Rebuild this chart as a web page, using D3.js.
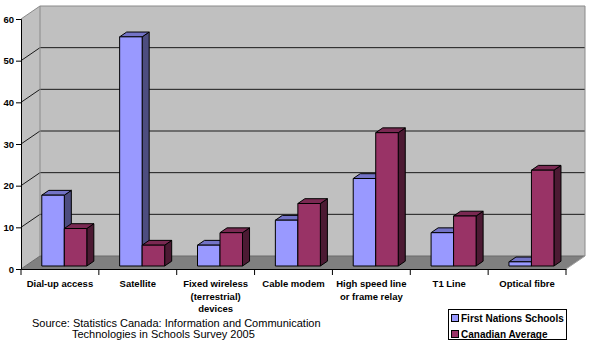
<!DOCTYPE html>
<html><head><meta charset="utf-8">
<script src="https://cdn.jsdelivr.net/npm/d3@7/dist/d3.min.js"></script>
<style>body{margin:0;background:#fff}svg{display:block;font-family:Arial,"Liberation Sans",sans-serif}</style>
</head><body><svg id="c" width="590" height="349"></svg>
<script>
const categories = [["Dial-up access"],["Satellite"],["Fixed wireless","(terrestrial)","devices"],["Cable modem"],["High speed line","or frame relay"],["T1 Line"],["Optical fibre"]];
const seriesNames = ["First Nations Schools","Canadian Average"];
const firstNations = [17,55,5,11,21,8,1];
const canadianAvg = [9,5,8,15,32,12,23];
const yTicks = [0,10,20,30,40,50,60];
const sourceLines = ["Source: Statistics Canada: Information and Communication","Technologies in Schools Survey 2005"];

const colors = [{front:"#9999ff",top:"#7373c6",side:"#4d4d80"},{front:"#993366",top:"#7a2952",side:"#4c1a33"}];
const svg = d3.select("#c");
const DX = 19, DY = -13;
const P = (x,y,d)=>[x+DX*d, y+DY*d];
const keys = categories.map((c,i)=>i);
const x0 = d3.scaleBand().domain(keys).range([21,566]);
const x1 = d3.scaleBand().domain([0,1]).range([0,x0.bandwidth()]).paddingOuter(0.73);
const y = d3.scaleLinear().domain([0,60]).range([269,19]);
const pts = a=>a.map(p=>p.join(",")).join(" ");

// walls
svg.append("polygon").attr("points",pts([P(21,y(0),0),P(21,y(60),0),P(21,y(60),1),P(21,y(0),1)])).attr("fill","#c0c0c0");
svg.append("polygon").attr("points",pts([P(21,y(60),1),P(566,y(60),1),P(566,y(0),1),P(21,y(0),1)])).attr("fill","#c0c0c0");
svg.append("polygon").attr("points",pts([P(21,y(0),0),P(566,y(0),0),P(566,y(0),1),P(21,y(0),1)])).attr("fill","#808080");
// gridlines
yTicks.forEach(t=>{
  const col = t===60 ? "#8a8a8a" : (t===0 ? "#6a6a6a" : "#1a1a1a");
  svg.append("polyline").attr("points",pts([P(21,y(t),0),P(21,y(t),1),P(566,y(t),1)])).attr("fill","none").attr("stroke",col).attr("stroke-width",1);
});
svg.append("line").attr("x1",P(21,0,1)[0]).attr("x2",P(21,0,1)[0]).attr("y1",P(0,y(60),1)[1]).attr("y2",P(0,y(0),1)[1]).attr("stroke","#8a8a8a");
svg.append("line").attr("x1",P(566,0,1)[0]).attr("x2",P(566,0,1)[0]).attr("y1",P(0,y(60),1)[1]).attr("y2",P(0,y(0),1)[1]).attr("stroke","#8a8a8a");
svg.append("line").attr("x1",566).attr("y1",269).attr("x2",P(566,0,1)[0]).attr("y2",269+DY).attr("stroke","#a0a0a0");

// bars
const d0 = 0.23, d1 = 0.6;
const data = [firstNations, canadianAvg];
keys.forEach(i=>{
  [0,1].forEach(s=>{
    const v = data[s][i];
    const xl = x0(i)+x1(s), xr = xl + x1.bandwidth();
    const yt = y(v), yb = y(0);
    const c = colors[s];
    const g = svg.append("g").attr("stroke","#000").attr("stroke-width",1).attr("stroke-linejoin","round");
    g.append("polygon").attr("points",pts([P(xr,yb,d0),P(xr,yt,d0),P(xr,yt,d1),P(xr,yb,d1)])).attr("fill",c.side);
    g.append("polygon").attr("points",pts([P(xl,yt,d0),P(xr,yt,d0),P(xr,yt,d1),P(xl,yt,d1)])).attr("fill",c.top);
    g.append("polygon").attr("points",pts([P(xl,yb,d0),P(xr,yb,d0),P(xr,yt,d0),P(xl,yt,d0)])).attr("fill",c.front);
  });
});

// y axis
const ya = svg.append("g").attr("transform","translate(21,0)").call(d3.axisLeft(y).tickValues(yTicks).tickSize(5).tickPadding(2).tickFormat(d3.format("d")));
ya.select(".domain").attr("stroke","#000");
ya.selectAll("line").attr("stroke","#000");
ya.selectAll("text").attr("font-size","9.5px").attr("font-weight","bold").attr("fill","#000").attr("font-family","Arial, 'Liberation Sans', sans-serif");

// x axis
const xa = svg.append("g").attr("transform","translate(0,269)").call(d3.axisBottom(x0).tickSize(0).tickFormat(""));
xa.select(".domain").attr("stroke","#000");
x0.domain().forEach(i=>{
  xa.append("line").attr("x1",x0(i)+x0.bandwidth()).attr("x2",x0(i)+x0.bandwidth()).attr("y1",0).attr("y2",6).attr("stroke","#000");
});
xa.append("line").attr("x1",21).attr("x2",21).attr("y1",0).attr("y2",6).attr("stroke","#000");
keys.forEach(i=>{
  const t = xa.append("text").attr("text-anchor","middle").attr("font-size","9.5px").attr("font-weight","bold").attr("fill","#000");
  categories[i].forEach((ln,j)=>t.append("tspan").attr("x",x0(i)+x0.bandwidth()/2).attr("y",18+j*12.5).text(ln));
});

// source
svg.append("text").attr("x",32).attr("y",327).attr("font-size","11px").attr("fill","#000").text(sourceLines[0]);
svg.append("text").attr("x",72).attr("y",338).attr("font-size","11px").attr("fill","#000").text(sourceLines[1]);

// legend
const lg = svg.append("g");
lg.append("rect").attr("x",448.5).attr("y",309.5).attr("width",118).attr("height",30).attr("fill","#fff").attr("stroke","#000");
seriesNames.forEach((n,k)=>{
  lg.append("rect").attr("x",451.5).attr("y",314.5+k*16).attr("width",7).attr("height",7).attr("fill",colors[k].front).attr("stroke","#000");
  lg.append("text").attr("x",461).attr("y",321.5+k*16).attr("font-size","10px").attr("font-weight","bold").attr("fill","#000").text(n);
});
</script></body></html>
